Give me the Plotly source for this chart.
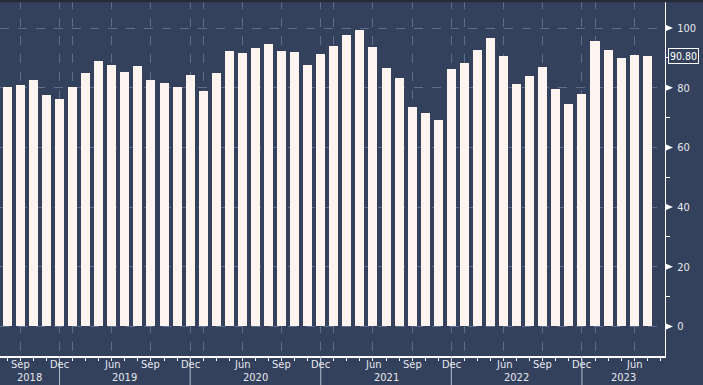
import plotly.graph_objects as go

# ---- data ----
values = [80.2, 80.9, 82.6, 77.5, 76.2, 80.2, 84.9, 88.9, 87.6, 85.2,
          87.2, 82.6, 81.5, 80.2, 84.2, 78.9, 84.9, 92.3, 91.6, 93.3,
          94.6, 92.3, 91.9, 87.6, 91.3, 94.0, 97.7, 99.3, 93.6, 86.6,
          83.2, 73.5, 71.5, 69.1, 86.2, 88.3, 92.6, 96.6, 90.6, 81.2,
          83.9, 86.9, 79.5, 74.5, 77.9, 95.6, 92.6, 89.9, 91.0, 90.8]
tick_idx = [1, 4, 5, 8, 11, 14, 15, 18, 21, 24, 25, 28, 31, 34, 35, 38, 41, 44, 45, 48]
tick_text = ["Sep", "Dec", "", "Jun", "Sep", "Dec", "", "Jun", "Sep", "Dec", "",
             "Jun", "Sep", "Dec", "", "Jun", "Sep", "Dec", "", "Jun"]
year_labels = ["2018", "2019", "2020", "2021", "2022", "2023"]
year_bounds = [4, 14, 24, 34, 44]   # Dec positions separating years
y_ticks = [0, 20, 40, 60, 80, 100]
last_label = "90.80"

BG = "#33415c"
BAR = "#fdf4ef"
GRID = "#5d6d8e"
TXT = "#e6e8ee"
FONT = "DejaVu Sans Condensed"

x = list(range(len(values)))
xr = [-0.56, len(values) + 0.36]
yr = [-9.9, 109.4]

fig = go.Figure()
fig.add_trace(go.Bar(x=x, y=values, marker=dict(color=BAR, line=dict(width=0)),
                     width=0.69, hoverinfo="y"))

shapes = []
# arrow-style tick markers on the right axis
for v in y_ticks:
    shapes.append(dict(type="path", xref="paper", yref="paper", xsizemode="pixel", ysizemode="pixel",
                       xanchor=1, yanchor=(v - yr[0]) / (yr[1] - yr[0]),
                       path="M1,3 L8,0 L1,-3 Z",
                       fillcolor="#ffffff", line=dict(width=0), layer="above"))

# year separators and year labels
for b in year_bounds:
    shapes.append(dict(type="line", xref="x", yref="paper", x0=b, x1=b, y0=0, y1=-0.085,
                       line=dict(color="#b8bfcc", width=1)))
edges = [xr[0]] + year_bounds + [xr[1]]
annotations = []
for i, yl in enumerate(year_labels):
    c = (edges[i] + edges[i + 1]) / 2
    annotations.append(dict(x=c, xref="x", y=-0.059, yref="paper", text=yl, showarrow=False,
                            yanchor="middle", font=dict(family=FONT, size=11, color=TXT)))
for t, lab in zip(tick_idx, tick_text):
    if lab:
        annotations.append(dict(x=t, xref="x", y=-0.0225, yref="paper", text=lab, showarrow=False,
                                yanchor="middle", font=dict(family=FONT, size=11, color=TXT)))

annotations.append(dict(x=1, xref="paper", y=values[-1], yref="y", text=last_label,
                        showarrow=False, xanchor="left", xshift=3,
                        bgcolor=BG, bordercolor="#ffffff", borderwidth=1, borderpad=1,
                        font=dict(family=FONT, size=10.5, color="#ffffff")))

shapes.append(dict(type="rect", xref="paper", yref="paper", x0=0, x1=1.06, y0=0.994, y1=1.0,
                   fillcolor="#262c36", line=dict(width=0), layer="above"))

fig.update_layout(
    width=703, height=385,
    margin=dict(l=0, r=38, t=0, b=29),
    paper_bgcolor=BG, plot_bgcolor=BG,
    showlegend=False, bargap=0,
    shapes=shapes, annotations=annotations,
    xaxis=dict(range=xr, tickmode="array", tickvals=tick_idx, ticktext=tick_text,
               showticklabels=False,
               showgrid=True, gridcolor=GRID, griddash="dash", gridwidth=1,
               showline=True, linecolor="#ffffff", linewidth=2,
               ticks="",
               minor=dict(tickmode="linear", tick0=0, dtick=1, ticks="outside",
                          ticklen=3, tickcolor="#ffffff", showgrid=False),
               zeroline=False, fixedrange=True, automargin=False),
    yaxis=dict(range=yr, side="right", tickvals=y_ticks,
               showgrid=True, gridcolor=GRID, griddash="dash", gridwidth=1,
               showline=True, linecolor="#ffffff", linewidth=1,
               ticks="", ticklabelstandoff=9,
               minor=dict(tickvals=[10, 30, 50, 70, 90], ticks="outside", ticklen=4,
                          tickcolor="#ffffff", showgrid=False),
               tickfont=dict(family=FONT, size=11, color=TXT),
               zeroline=False, fixedrange=True, automargin=False),
)

fig.write_html("out.html", config={"displayModeBar": False},
               post_script="document.body.style.margin='0';document.body.style.overflow='hidden';")
